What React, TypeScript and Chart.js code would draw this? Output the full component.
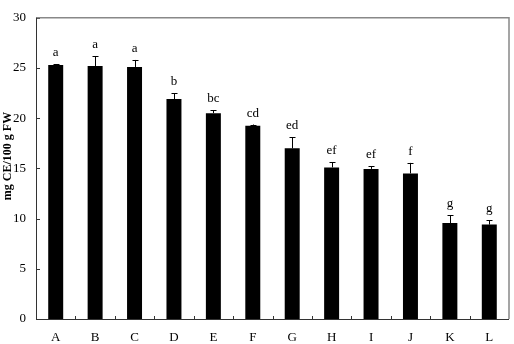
import React, { useEffect, useRef } from "react";
import { Chart, registerables } from "chart.js";

Chart.register(...registerables);

const categories = ["A", "B", "C", "D", "E", "F", "G", "H", "I", "J", "K", "L"];
const means = [25.3, 25.2, 25.1, 21.9, 20.5, 19.25, 17.0, 15.1, 14.95, 14.5, 9.55, 9.4];
const errors = [0.06, 0.95, 0.7, 0.6, 0.3, 0.12, 1.1, 0.5, 0.25, 1.05, 0.8, 0.45];
const letters = ["a", "a", "a", "b", "bc", "cd", "ed", "ef", "ef", "f", "g", "g"];
const yTicks = [0, 5, 10, 15, 20, 25, 30];
const yTitle = "mg CE/100 g FW";

const FONT = "'Liberation Serif', 'Times New Roman', serif";

const decorPlugin = {
  id: "decor",
  afterDatasetsDraw(chart: any) {
    const ctx = chart.ctx;
    const area = chart.chartArea;
    const xs = chart.scales.x;
    const ys = chart.scales.y;
    const meta = chart.getDatasetMeta(0);
    ctx.save();
    // error bars and letters
    ctx.strokeStyle = "#000";
    ctx.lineWidth = 1;
    ctx.fillStyle = "#000";
    ctx.font = `13px ${FONT}`;
    ctx.textAlign = "center";
    ctx.textBaseline = "alphabetic";
    meta.data.forEach((bar: any, i: number) => {
      const x = Math.round(bar.x) + 0.5;
      const yTop = ys.getPixelForValue(means[i]);
      const yErr = ys.getPixelForValue(means[i] + errors[i]);
      ctx.beginPath();
      ctx.moveTo(x, yTop);
      ctx.lineTo(x, yErr);
      ctx.moveTo(x - 3, Math.round(yErr) + 0.5);
      ctx.lineTo(x + 3, Math.round(yErr) + 0.5);
      ctx.stroke();
      ctx.fillText(letters[i], bar.x, yErr - 8);
    });
    // inward tick marks on y axis
    ctx.strokeStyle = "#333";
    ctx.beginPath();
    yTicks.forEach((v) => {
      const y = Math.round(ys.getPixelForValue(v)) + 0.5;
      ctx.moveTo(area.left, y);
      ctx.lineTo(area.left + 4, y);
    });
    // inward tick marks on x axis at category boundaries
    for (let i = 1; i < categories.length; i++) {
      const x = Math.round((xs.getPixelForValue(i - 1) + xs.getPixelForValue(i)) / 2) + 0.5;
      ctx.moveTo(x, area.bottom);
      ctx.lineTo(x, area.bottom - 3);
    }
    ctx.stroke();
    // top and right border (grey)
    ctx.strokeStyle = "#888";
    ctx.lineWidth = 1.5;
    ctx.beginPath();
    ctx.moveTo(area.left, area.top);
    ctx.lineTo(area.right, area.top);
    ctx.lineTo(area.right, area.bottom);
    ctx.stroke();
    // left and bottom axes
    ctx.strokeStyle = "#333";
    ctx.lineWidth = 1;
    ctx.beginPath();
    ctx.moveTo(area.left + 0.5, area.top);
    ctx.lineTo(area.left + 0.5, area.bottom + 0.5);
    ctx.lineTo(area.right, area.bottom + 0.5);
    ctx.stroke();
    // y axis title
    ctx.translate(8, 156);
    ctx.rotate(-Math.PI / 2);
    ctx.font = `bold 12px ${FONT}`;
    ctx.textAlign = "center";
    ctx.textBaseline = "middle";
    ctx.fillStyle = "#000";
    ctx.fillText(yTitle, 0, 0);
    ctx.restore();
  },
};

export default function App() {
  const ref = useRef<HTMLCanvasElement | null>(null);
  useEffect(() => {
    document.body.style.margin = "0";
    const canvas = ref.current;
    if (!canvas) return;
    const chart = new Chart(canvas, {
      type: "bar",
      data: {
        labels: categories,
        datasets: [
          {
            data: means,
            backgroundColor: "#000",
            borderWidth: 0,
            barPercentage: 0.38,
            categoryPercentage: 1,
          },
        ],
      },
      options: {
        responsive: false,
        animation: false,
        events: [],
        layout: { padding: { top: 17, right: 5, left: 0, bottom: 0 } },
        plugins: {
          legend: { display: false },
          tooltip: { enabled: false },
        },
        scales: {
          x: {
            grid: { display: false, drawTicks: false },
            border: { display: false },
            ticks: {
              color: "#000",
              font: { family: FONT, size: 13 },
              padding: 11,
            },
            afterFit: (s: any) => {
              s.height = 25;
            },
          },
          y: {
            min: 0,
            max: 30,
            grid: { display: false, drawTicks: false },
            border: { display: false },
            ticks: {
              stepSize: 5,
              color: "#000",
              font: { family: FONT, size: 13 },
              padding: 10,
            },
            afterFit: (s: any) => {
              s.width = 36;
            },
          },
        },
      },
      plugins: [decorPlugin],
    });
    return () => chart.destroy();
  }, []);
  return <canvas ref={ref} width={514} height={344} style={{ display: "block" }} />;
}
